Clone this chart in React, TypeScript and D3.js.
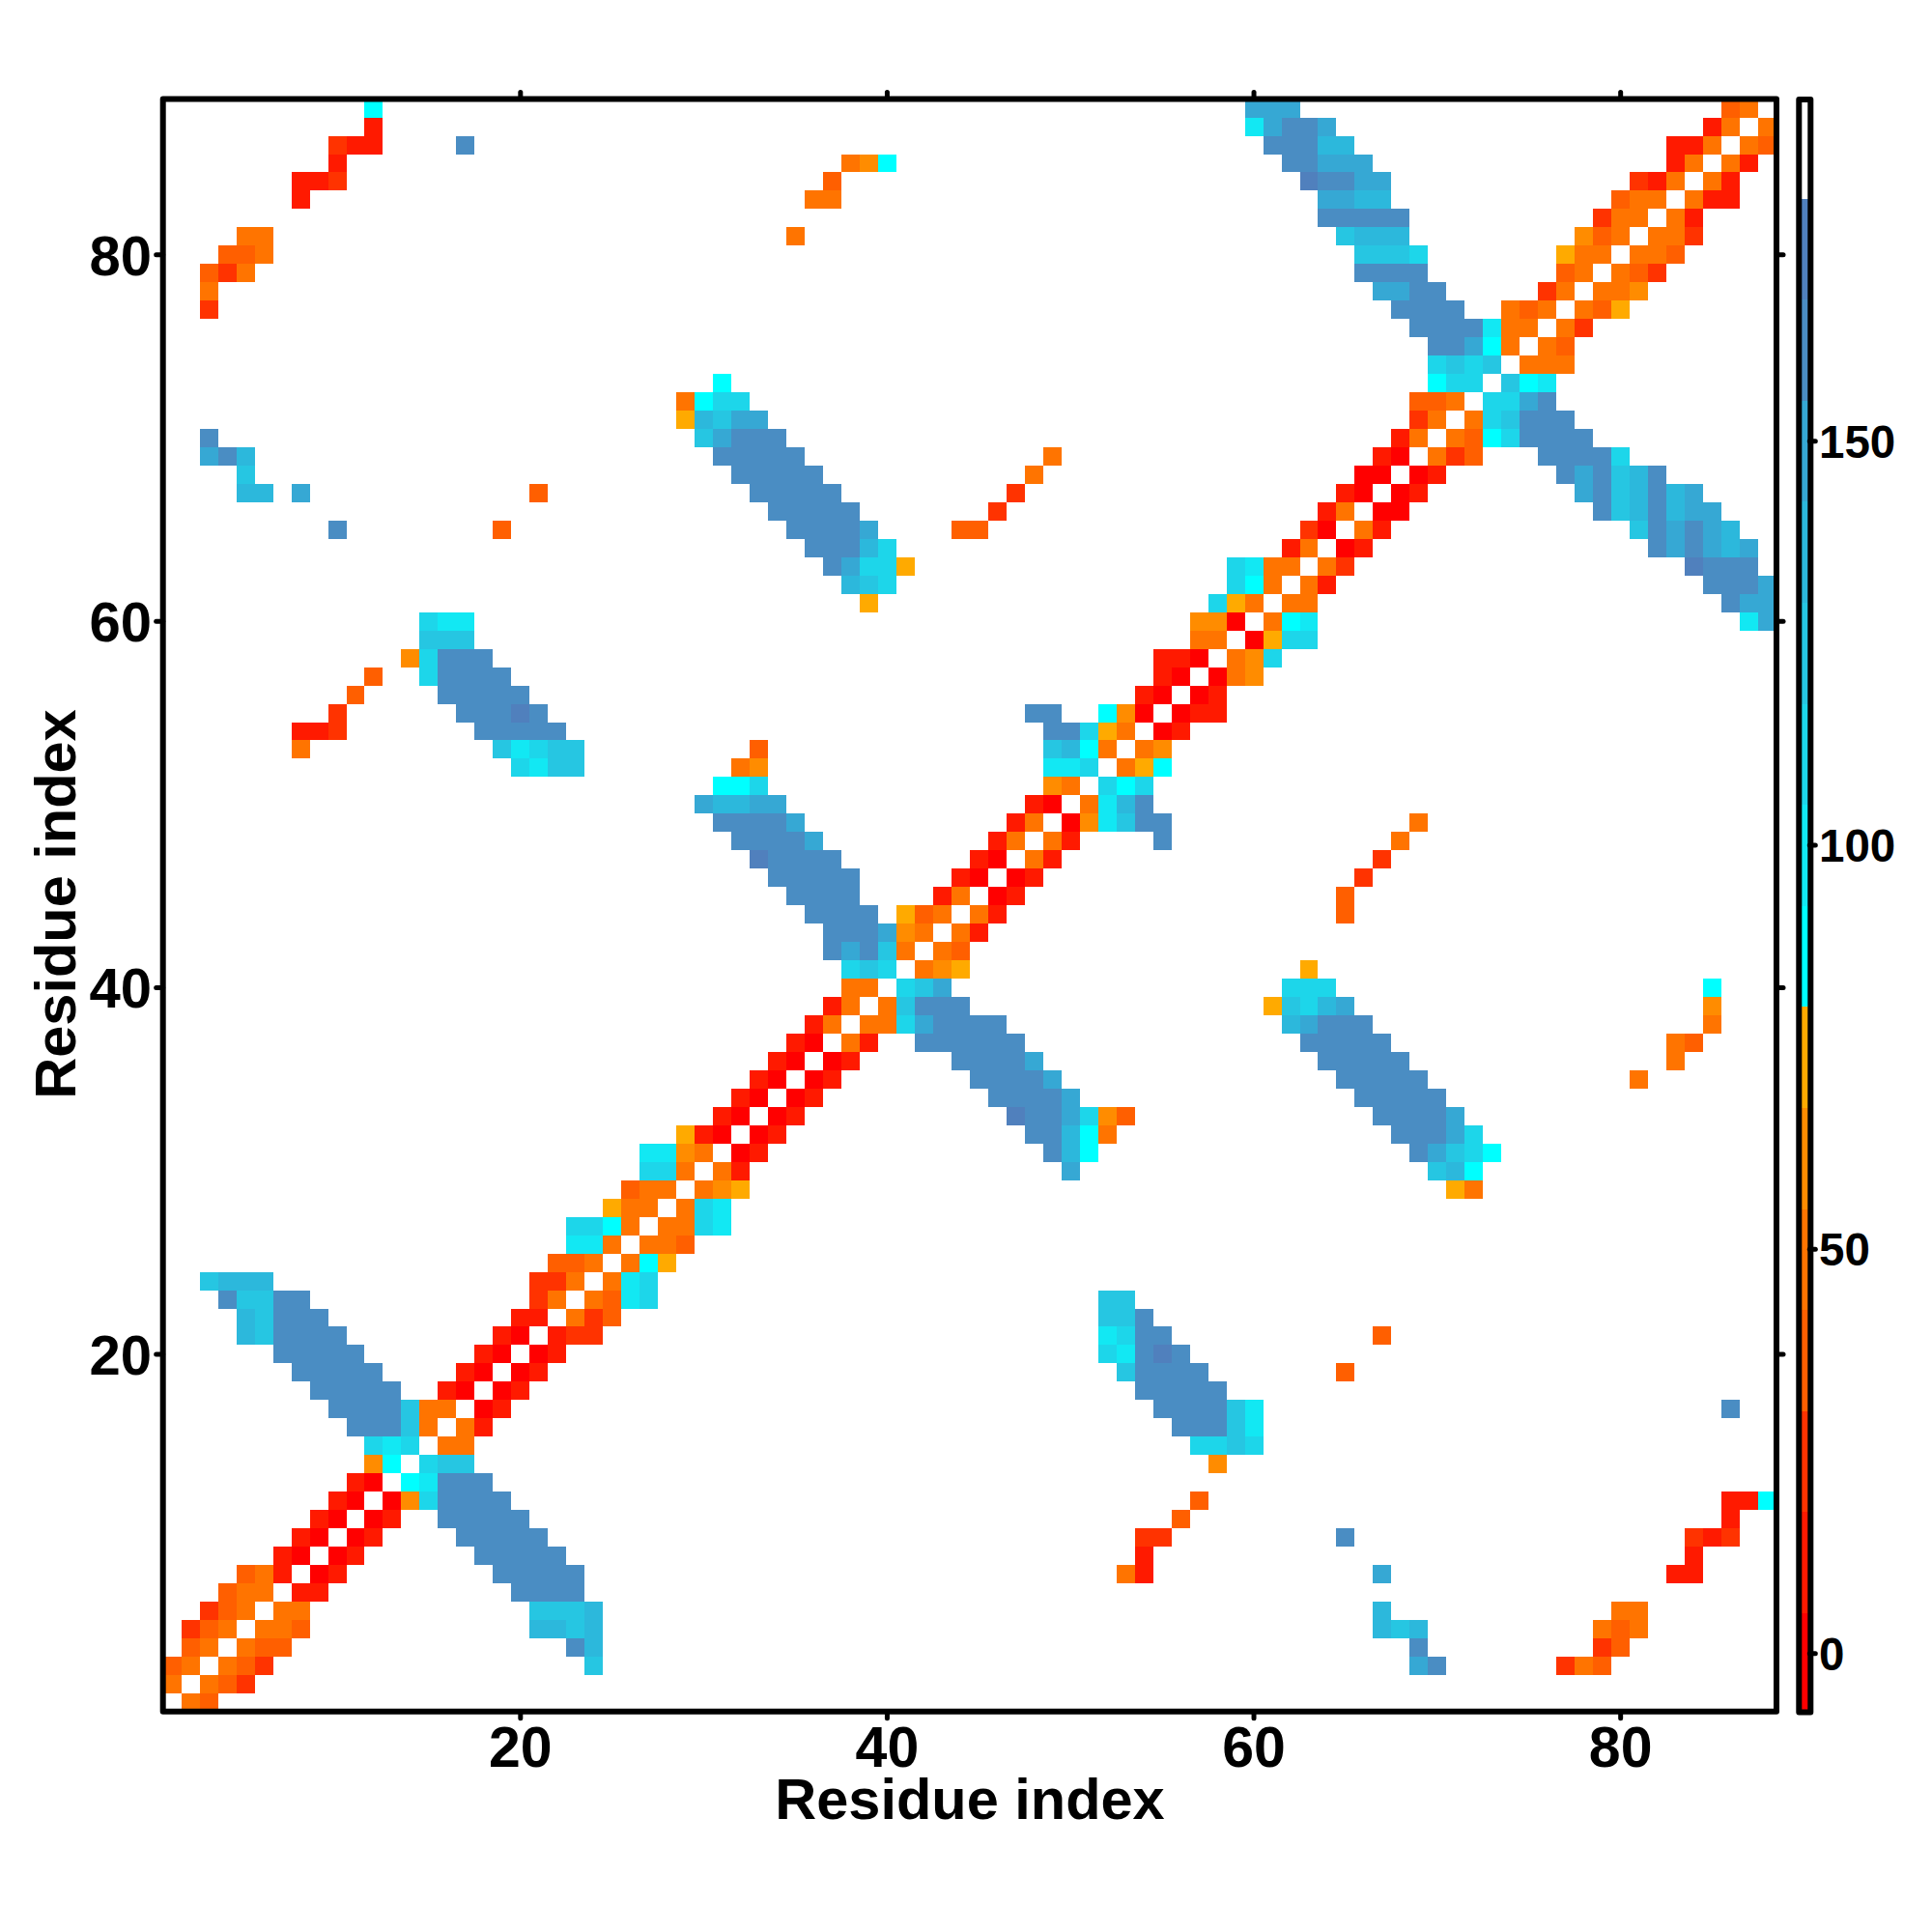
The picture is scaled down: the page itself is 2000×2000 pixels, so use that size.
import React, { useEffect, useRef } from 'react';
import * as d3 from 'd3';

const RESIDUE_COUNT = 88;
const AXIS_TICKS = [20, 40, 60, 80];
const LEGEND_TICKS = [0, 50, 100, 150];
const LEGEND_BREAKS = [5, 17.5, 30, 42.5, 55, 67.5, 80, 92.5, 105, 117.5, 130, 142.5, 155, 167.5, 180];
const LEGEND_COLORS = [
  '#ff0000', '#ff1a00', '#ff3300', '#ff5f00', '#ff7400', '#ff8c00', '#ffaa00', '#00ffff',
  '#12e8f3', '#1dd6ea', '#26c6e2', '#2cb8dc', '#36a8d4', '#4a8dc3', '#5080bd', '#ffffff'
];

// [residue, first partner, values for consecutive partners]. The map is symmetric.
type Run = [number, number, number[]];

const BACKBONE_RUNS: Run[] = [
  [1, 2, [50, 35]], [2, 3, [50, 35, 25]], [3, 4, [50, 35, 25]], [4, 5, [50, 35, 35]],
  [5, 6, [50, 50, 35]], [6, 7, [50, 50]], [7, 8, [10, 10]], [8, 9, [0, 10]],
  [9, 10, [0, 10]], [10, 11, [0, 10]], [11, 12, [0, 10]], [12, 13, [0, 60, 110]],
  [13, 14, [85, 100]], [14, 15, [110, 125, 125]], [15, 16, [50, 50]], [16, 17, [50, 10]],
  [17, 18, [0, 10]], [18, 19, [0, 10]], [19, 20, [0, 10]], [20, 21, [0, 10]],
  [21, 22, [10, 25, 25]], [22, 23, [50, 25, 35]], [23, 24, [50, 35, 100, 110]], [24, 25, [50, 100, 110]],
  [25, 26, [50, 85, 75]], [26, 27, [50, 50, 35]], [27, 28, [50, 50, 110, 100]], [28, 29, [50, 110, 100]],
  [29, 30, [50, 60, 75]], [30, 31, [50, 10]], [31, 32, [0, 10]], [32, 33, [0, 10]],
  [33, 34, [0, 10]], [34, 35, [0, 10]], [35, 36, [0, 10]], [36, 37, [0, 10]],
  [37, 38, [50, 10]], [38, 39, [50, 50, 110]], [39, 40, [50, 125]], [40, 41, [110, 125, 150]],
  [41, 42, [50, 60, 75]], [42, 43, [50, 35]], [43, 44, [50, 10]], [44, 45, [50, 10]],
  [45, 46, [0, 10]], [46, 47, [0, 10]], [47, 48, [50, 10]], [48, 49, [50, 10]],
  [49, 50, [0, 60, 100, 125, 160, 160]], [50, 51, [50, 100, 135, 160]], [51, 52, [110, 85, 110]], [52, 53, [50, 75, 85]],
  [53, 54, [50, 60]], [54, 55, [0, 10]], [55, 56, [0, 10, 10]], [56, 57, [0, 10]],
  [57, 58, [0, 50, 60]], [58, 59, [50, 60, 110]], [59, 60, [0, 75, 110, 110]], [60, 61, [50, 85, 100]],
  [61, 62, [50, 50]], [62, 63, [50, 10]], [63, 64, [50, 25]], [64, 65, [0, 10]],
  [65, 66, [50, 10]], [66, 67, [0, 0]], [67, 68, [0, 10]], [68, 69, [0, 10]],
  [69, 70, [50, 25, 35]], [70, 71, [50, 35, 85, 110]], [71, 72, [50, 110, 125]], [72, 73, [110, 110]],
  [73, 74, [125, 85, 100]], [74, 75, [50, 50, 50]], [75, 76, [50, 35]], [76, 77, [50, 25]],
  [77, 78, [50, 35, 75]], [78, 79, [50, 50, 60]], [79, 80, [50, 35, 25]], [80, 81, [50, 50, 35]],
  [81, 82, [50, 50, 25]], [82, 83, [50, 10]], [83, 84, [50, 10, 10]], [84, 85, [50, 10]],
  [85, 86, [50, 10]], [86, 87, [50, 35]], [87, 88, [50]]
];

const SHEET_RUNS: Run[] = [
  [3, 24, [125]], [4, 23, [160, 135]], [5, 21, [135, 135, 125, 135]], [6, 21, [125, 125, 125, 135]],
  [7, 20, [160, 160, 160, 160]], [8, 19, [160, 160, 160, 160, 160]], [9, 18, [160, 160, 160, 160, 160]],
  [10, 17, [160, 160, 160, 160, 160]], [11, 16, [160, 160, 160, 160, 160]], [12, 16, [160, 160, 160, 160]],
  [13, 16, [160, 160, 160]],
  [15, 57, [110, 110, 125, 110]], [16, 56, [160, 160, 160, 125, 100]], [17, 55, [160, 160, 160, 160, 125, 100]],
  [18, 54, [160, 160, 160, 160, 160]], [19, 53, [125, 160, 160, 160, 160]], [20, 52, [110, 100, 160, 175, 160]],
  [21, 52, [100, 110, 160, 160]], [22, 52, [125, 125, 160]], [23, 52, [125, 125]],
  [30, 50, [150]], [31, 49, [160, 135, 85]], [32, 48, [160, 160, 135, 85, 50]],
  [33, 47, [175, 160, 160, 150, 110, 60, 35]], [34, 46, [160, 160, 160, 160, 150]], [35, 45, [160, 160, 160, 160, 150]],
  [36, 44, [160, 160, 160, 160, 150]], [37, 42, [160, 160, 160, 160, 160, 160]], [38, 42, [150, 160, 160, 160, 160]],
  [39, 42, [160, 160, 160]],
  [29, 71, [75, 50]], [30, 70, [125, 135, 85]], [31, 69, [160, 150, 125, 110, 85]], [32, 68, [160, 160, 160, 150, 110]],
  [33, 67, [160, 160, 160, 160, 150]], [34, 66, [160, 160, 160, 160, 160]], [35, 65, [160, 160, 160, 160, 160]],
  [36, 64, [160, 160, 160, 160, 160]], [37, 63, [160, 160, 160, 160, 160]], [38, 62, [135, 150, 160, 160, 160]],
  [39, 61, [75, 125, 110, 135, 150]], [40, 62, [110, 110, 110]], [41, 63, [75]],
  [60, 87, [100, 150]], [61, 86, [160, 150, 150]], [62, 85, [160, 160, 160, 150]], [63, 84, [175, 160, 160, 160]],
  [64, 82, [160, 150, 160, 150, 135, 150]], [65, 81, [125, 160, 150, 160, 150, 135]],
  [66, 79, [160, 125, 135, 160, 135, 150, 150]], [67, 78, [150, 160, 125, 135, 160, 135, 150]],
  [68, 77, [160, 150, 160, 125, 135, 160]], [69, 76, [160, 160, 160, 160, 110]], [70, 75, [160, 160, 160, 160]],
  [71, 75, [160, 160, 160]], [72, 75, [150, 160]]
];

const LONG_RANGE_RUNS: Run[] = [
  [3, 69, [150, 160]], [3, 77, [25, 50, 35]], [4, 69, [160]], [4, 79, [25, 35]],
  [5, 67, [135, 125, 135]], [5, 79, [50, 35, 50]], [6, 67, [135]], [6, 80, [50, 50]],
  [8, 53, [50, 10]], [8, 67, [150]], [8, 83, [10, 10]], [9, 54, [10]], [9, 84, [10]],
  [10, 54, [25, 25]], [10, 65, [160]], [10, 84, [25, 10, 25]], [11, 56, [35]], [11, 86, [10]],
  [12, 57, [35]], [12, 86, [10, 10, 85]], [14, 58, [60]], [17, 86, [160]], [19, 65, [35]], [21, 67, [35]],
  [35, 81, [50]], [36, 83, [50]], [37, 83, [50, 35]], [38, 85, [50]], [39, 85, [60]], [40, 85, [85]],
  [44, 65, [35]], [45, 65, [35]], [46, 66, [25]], [47, 67, [25]], [48, 55, [160]], [48, 68, [50]], [49, 69, [50]]
];

const App: React.FC = () => {
  const svgRef = useRef<SVGSVGElement>(null);

  useEffect(() => {
    if (!svgRef.current) return;

    const svg = d3.select(svgRef.current);
    svg.selectAll('*').remove();

    const left = 168.7;
    const right = 1839;
    const top = 102.6;
    const bottom = 1771.8;
    const font = '"Liberation Sans", Arial, sans-serif';

    const x = d3.scaleLinear().domain([0.5, RESIDUE_COUNT + 0.5]).range([left, right]);
    const y = d3.scaleLinear().domain([0.5, RESIDUE_COUNT + 0.5]).range([bottom, top]);
    const color = d3.scaleThreshold<number, string>().domain(LEGEND_BREAKS).range(LEGEND_COLORS);

    // Expand the runs, then mirror every pair across the diagonal
    const cells: Array<{ i: number; j: number; value: number }> = [];
    [...BACKBONE_RUNS, ...SHEET_RUNS, ...LONG_RANGE_RUNS].forEach(([residue, start, values]) => {
      values.forEach((value, k) => {
        cells.push({ i: start + k, j: residue, value });
        cells.push({ i: residue, j: start + k, value });
      });
    });

    svg.append('g')
      .attr('shape-rendering', 'crispEdges')
      .selectAll('rect')
      .data(cells)
      .enter()
      .append('rect')
      .attr('x', d => x(d.i - 0.5))
      .attr('y', d => y(d.j + 0.5))
      .attr('width', d => x(d.i + 0.5) - x(d.i - 0.5))
      .attr('height', d => y(d.j - 0.5) - y(d.j + 0.5))
      .attr('fill', d => color(d.value));

    // Ticks on all four sides
    const ticks = svg.append('g').attr('stroke', '#000').attr('stroke-width', 5).attr('stroke-linecap', 'round');
    AXIS_TICKS.forEach(t => {
      ticks.append('line').attr('x1', x(t)).attr('x2', x(t)).attr('y1', bottom).attr('y2', bottom + 7);
      ticks.append('line').attr('x1', x(t)).attr('x2', x(t)).attr('y1', top).attr('y2', top - 7);
      ticks.append('line').attr('y1', y(t)).attr('y2', y(t)).attr('x1', left).attr('x2', left - 7);
      ticks.append('line').attr('y1', y(t)).attr('y2', y(t)).attr('x1', right).attr('x2', right + 7);
    });

    svg.append('rect')
      .attr('x', left)
      .attr('y', top)
      .attr('width', right - left)
      .attr('height', bottom - top)
      .attr('fill', 'none')
      .attr('stroke', '#000')
      .attr('stroke-width', 6)
      .attr('stroke-linejoin', 'round');

    // Tick labels
    svg.selectAll('.x-label')
      .data(AXIS_TICKS)
      .enter()
      .append('text')
      .attr('class', 'x-label')
      .attr('x', d => x(d))
      .attr('y', 1829)
      .attr('text-anchor', 'middle')
      .style('font', `bold 59px ${font}`)
      .text(d => d);

    svg.selectAll('.y-label')
      .data(AXIS_TICKS)
      .enter()
      .append('text')
      .attr('class', 'y-label')
      .attr('x', 157)
      .attr('y', d => y(d))
      .attr('dy', '0.36em')
      .attr('text-anchor', 'end')
      .style('font', `bold 58px ${font}`)
      .text(d => d);

    // Axis titles
    svg.append('text')
      .attr('x', 1004)
      .attr('y', 1883)
      .attr('text-anchor', 'middle')
      .style('font', `bold 59.5px ${font}`)
      .text('Residue index');

    svg.append('text')
      .attr('transform', 'translate(78, 936) rotate(-90)')
      .attr('text-anchor', 'middle')
      .style('font', `bold 59.5px ${font}`)
      .text('Residue index');

    // Colour bar
    const barLeft = 1862.3;
    const barRight = 1874.3;
    const barTop = 103;
    const barBottom = 1772.5;
    const legend = d3.scaleLinear().domain([0, 150]).range([1711.7, 456.7]);
    const edges = [-7.5, ...LEGEND_BREAKS, 192.5];

    svg.append('g')
      .attr('shape-rendering', 'crispEdges')
      .selectAll('rect')
      .data(LEGEND_COLORS)
      .enter()
      .append('rect')
      .attr('x', barLeft)
      .attr('width', barRight - barLeft)
      .attr('y', (_, k) => legend(edges[k + 1]))
      .attr('height', (_, k) => legend(edges[k]) - legend(edges[k + 1]))
      .attr('fill', d => d);

    svg.append('rect')
      .attr('x', barLeft)
      .attr('y', barTop)
      .attr('width', barRight - barLeft)
      .attr('height', barBottom - barTop)
      .attr('fill', 'none')
      .attr('stroke', '#000')
      .attr('stroke-width', 6)
      .attr('stroke-linejoin', 'round');

    LEGEND_TICKS.forEach(t => {
      svg.append('line')
        .attr('x1', barRight - 1)
        .attr('x2', barRight + 5)
        .attr('y1', legend(t))
        .attr('y2', legend(t))
        .attr('stroke', '#000')
        .attr('stroke-width', 5)
        .attr('stroke-linecap', 'round');
    });

    svg.selectAll('.legend-label')
      .data(LEGEND_TICKS)
      .enter()
      .append('text')
      .attr('class', 'legend-label')
      .attr('x', 1883)
      .attr('y', d => legend(d))
      .attr('dy', '0.36em')
      .style('font', `bold 47.5px ${font}`)
      .text(d => d);
  }, []);

  return (
    <svg
      ref={svgRef}
      width={2000}
      height={2000}
      style={{ position: 'absolute', left: 0, top: 0, background: '#fff' }}
    />
  );
};

export default App;
